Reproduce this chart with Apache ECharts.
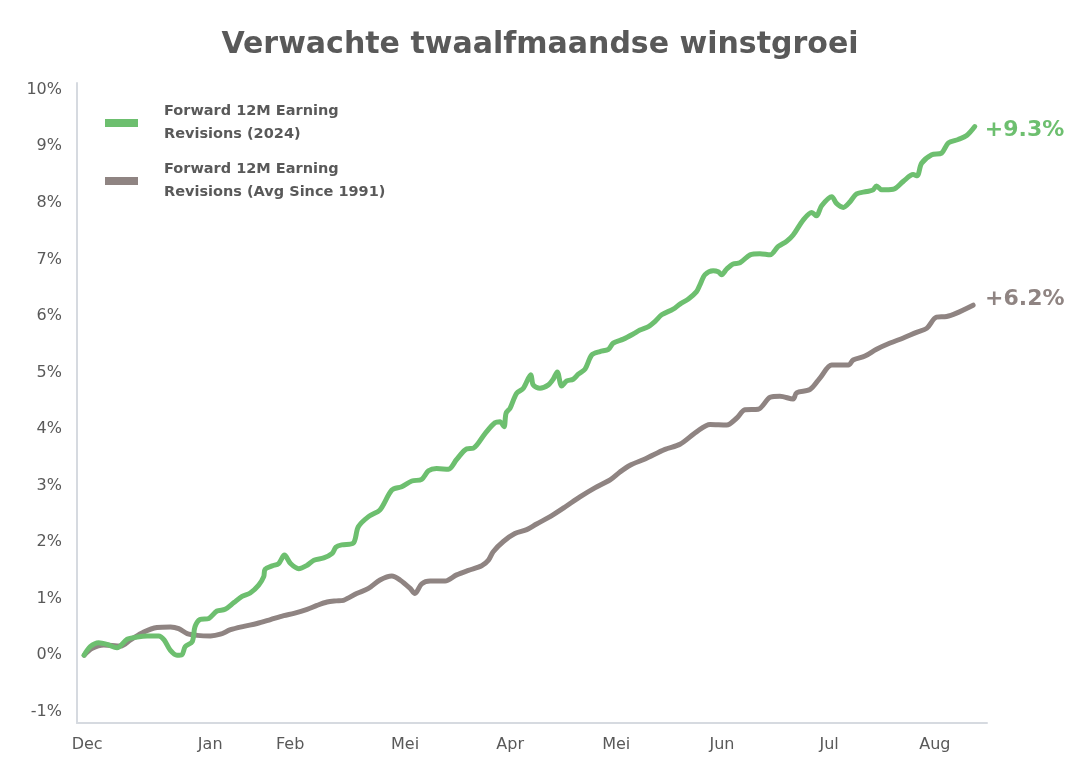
<!DOCTYPE html>
<html>
<head>
<meta charset="utf-8">
<script src="https://cdn.jsdelivr.net/npm/echarts@6/dist/echarts.min.js"></script>
<style>
  html, body { margin: 0; padding: 0; background: #ffffff; }
  #chart { width: 1080px; height: 774px; }
</style>
</head>
<body>
<div id="chart"></div>
<script>
// x = days since start of December, y = cumulative revision (%)
const greenDays = [0.0,1.8,4.3,6.8,9.7,12.7,15.6,18.6,22.0,23.6,25.4,27.4,28.9,29.8,31.9,32.7,34.2,36.8,39.2,41.6,44.2,46.6,49.0,51.5,53.0,53.4,55.5,57.4,59.1,60.9,63.3,65.8,67.8,70.7,73.2,74.3,76.0,79.4,80.9,83.9,87.3,90.8,93.7,96.7,99.6,101.6,104.0,107.5,109.9,112.9,114.8,118.3,121.2,122.7,123.9,124.5,125.7,127.6,129.6,131.8,132.5,134.5,137.0,138.4,139.6,140.9,142.4,144.3,145.8,147.8,149.8,152.2,154.7,156.1,159.1,162.0,164.0,166.5,168.4,170.4,173.8,175.8,178.3,180.7,181.7,183.2,185.6,187.1,188.1,189.6,191.5,193.5,196.5,199.4,202.4,204.8,207.3,209.2,212.2,214.7,216.1,217.6,220.6,222.0,224.0,226.0,227.9,230.9,232.8,233.8,235.3,238.7,241.7,244.6,245.8,247.1,250.1,253.0,255.0,257.9,260.4,262.8];
const greenValues = [0.00,0.15,0.22,0.19,0.13,0.28,0.32,0.34,0.34,0.27,0.09,0.00,0.01,0.15,0.24,0.50,0.63,0.65,0.78,0.81,0.93,1.04,1.10,1.24,1.39,1.52,1.58,1.62,1.77,1.62,1.53,1.59,1.68,1.72,1.80,1.91,1.95,1.98,2.27,2.45,2.57,2.92,2.98,3.08,3.11,3.26,3.30,3.29,3.46,3.65,3.66,3.92,4.11,4.13,4.04,4.28,4.37,4.63,4.72,4.96,4.78,4.72,4.78,4.88,5.01,4.76,4.85,4.88,4.97,5.06,5.31,5.37,5.41,5.52,5.59,5.68,5.75,5.81,5.90,6.02,6.12,6.21,6.30,6.43,6.55,6.73,6.80,6.78,6.73,6.83,6.92,6.94,7.08,7.10,7.08,7.23,7.32,7.43,7.70,7.83,7.77,7.95,8.11,7.99,7.92,8.02,8.16,8.20,8.23,8.30,8.23,8.24,8.38,8.50,8.48,8.70,8.85,8.88,9.06,9.12,9.19,9.35];

const grayDays = [0.0,2.4,5.8,10.7,13.7,17.6,21.5,25.5,27.9,30.4,33.3,37.3,40.2,43.2,47.1,51.0,55.0,58.9,61.9,65.8,68.7,71.7,74.4,76.5,80.4,83.9,87.3,90.8,93.2,96.2,97.6,99.6,102.1,106.5,109.9,113.4,117.3,119.3,120.7,123.7,127.1,130.6,133.5,137.5,141.9,146.3,150.7,155.2,158.1,161.1,165.5,171.4,175.8,180.7,184.7,189.6,192.5,195.0,198.9,202.4,205.3,209.2,210.2,214.2,217.1,220.6,225.5,226.9,230.4,233.8,237.8,241.7,245.6,248.6,251.5,254.5,257.4,262.3];
const grayValues = [0.00,0.12,0.18,0.16,0.27,0.41,0.49,0.50,0.47,0.38,0.35,0.34,0.37,0.45,0.51,0.56,0.63,0.70,0.74,0.81,0.88,0.94,0.96,0.97,1.09,1.18,1.33,1.40,1.33,1.18,1.09,1.26,1.31,1.31,1.42,1.50,1.58,1.68,1.83,2.01,2.15,2.22,2.32,2.45,2.62,2.80,2.96,3.10,3.24,3.36,3.47,3.64,3.73,3.95,4.08,4.07,4.19,4.34,4.35,4.56,4.58,4.53,4.64,4.70,4.90,5.13,5.13,5.22,5.29,5.41,5.52,5.61,5.71,5.78,5.98,5.99,6.05,6.19];

const seriesNames = ['Forward 12M Earning\nRevisions (2024)', 'Forward 12M Earning\nRevisions (Avg Since 1991)'];
const endLabels = ['+9.3%', '+6.2%'];
const xTickDays = [0.9, 37.2, 60.8, 94.7, 125.7, 157.0, 188.2, 219.8, 251.0];
const xTickLabels = ['Dec', 'Jan', 'Feb', 'Mei', 'Apr', 'Mei', 'Jun', 'Jul', 'Aug'];
const yTickValues = [-1, 0, 1, 2, 3, 4, 5, 6, 7, 8, 9, 10];

const GREEN = '#6dbf6f';
const TAUPE = '#8f8482';
const TEXT = '#595959';
const AXIS = '#d6dae0';

const toPairs = (xs, ys) => xs.map((x, i) => [x, ys[i]]);

const chart = echarts.init(document.getElementById('chart'), null, { renderer: 'canvas' });
chart.setOption({
  backgroundColor: '#ffffff',
  animation: false,
  title: {
    text: 'Verwachte twaalfmaandse winstgroei',
    left: 'center',
    top: 25,
    textStyle: { fontFamily: 'DejaVu Sans', fontWeight: 'bold', fontSize: 30, color: TEXT }
  },
  legend: {
    orient: 'vertical',
    left: 100,
    top: 95,
    itemWidth: 33,
    itemHeight: 8,
    itemGap: 12,
    icon: 'rect',
    data: seriesNames,
    textStyle: { fontFamily: 'DejaVu Sans', fontWeight: 'bold', fontSize: 14.5, color: TEXT, lineHeight: 23, padding: [0, 0, 0, 21] }
  },
  grid: { left: 77, right: 93, top: 83, bottom: 51, containLabel: false },
  xAxis: {
    type: 'value',
    min: -2.1,
    max: 266.4,
    axisLine: { show: true, onZero: false, lineStyle: { color: AXIS, width: 2 } },
    axisTick: { show: false },
    splitLine: { show: false },
    axisLabel: {
      customValues: xTickDays,
      formatter: v => { const i = xTickDays.indexOf(v); return i >= 0 ? xTickLabels[i] : ''; },
      color: TEXT, fontSize: 16, fontFamily: 'DejaVu Sans', margin: 14
    }
  },
  yAxis: {
    type: 'value',
    min: -1.2,
    max: 10.12,
    axisLine: { show: true, onZero: false, lineStyle: { color: AXIS, width: 2 } },
    axisTick: { show: false },
    splitLine: { show: false },
    axisLabel: {
      customValues: yTickValues,
      formatter: v => v + '%',
      color: TEXT, fontSize: 16, fontFamily: 'DejaVu Sans', margin: 15
    }
  },
  series: [
    {
      name: seriesNames[0],
      type: 'line',
      data: toPairs(greenDays, greenValues),
      smooth: 0.3,
      showSymbol: false,
      z: 3,
      lineStyle: { color: GREEN, width: 5, cap: 'round', join: 'round' },
      itemStyle: { color: GREEN },
      endLabel: {
        show: true,
        formatter: () => endLabels[0],
        color: GREEN, fontSize: 22, fontWeight: 'bold', fontFamily: 'DejaVu Sans',
        distance: 10, offset: [0, 4]
      }
    },
    {
      name: seriesNames[1],
      type: 'line',
      data: toPairs(grayDays, grayValues),
      smooth: 0.3,
      showSymbol: false,
      z: 2,
      lineStyle: { color: TAUPE, width: 5, cap: 'round', join: 'round' },
      itemStyle: { color: TAUPE },
      endLabel: {
        show: true,
        formatter: () => endLabels[1],
        color: TAUPE, fontSize: 22, fontWeight: 'bold', fontFamily: 'DejaVu Sans',
        distance: 12, offset: [0, -6]
      }
    }
  ]
});
</script>
</body>
</html>
